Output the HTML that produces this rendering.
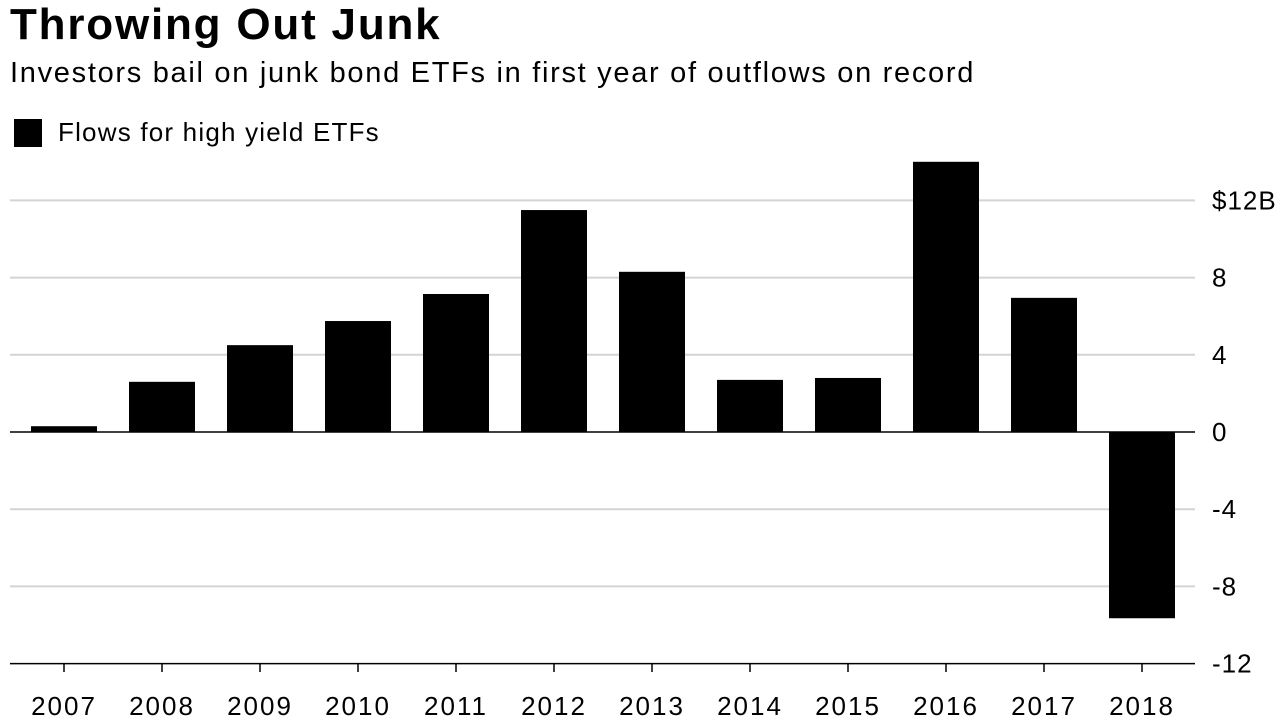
<!DOCTYPE html>
<html><head><meta charset="utf-8"><style>
body{margin:0;background:#fff;font-family:"Liberation Sans",Arial,sans-serif;}
#wrap{position:relative;width:1280px;height:723px;overflow:hidden}
h1{position:absolute;left:10px;top:-1px;margin:0;font-size:44px;font-weight:bold;letter-spacing:1.8px;line-height:52px}
.sub{position:absolute;left:10px;top:56px;font-size:29px;letter-spacing:1.7px;color:#000;line-height:34px}
.leg{position:absolute;left:14px;top:117px;font-size:26px;letter-spacing:1.2px;display:flex;align-items:center}
.sw{width:28px;height:28px;background:#000;margin-right:16px}
</style></head><body>
<div id="wrap">
<h1>Throwing Out Junk</h1>
<div class="sub">Investors bail on junk bond ETFs in first year of outflows on record</div>
<div class="leg"><div class="sw"></div>Flows for high yield ETFs</div>
<svg id="svg" width="1280" height="723" style="position:absolute;left:0;top:0"></svg>
</div>
<script>
const categories=["2007","2008","2009","2010","2011","2012","2013","2014","2015","2016","2017","2018"];
const values=[0.3,2.6,4.5,5.75,7.15,11.5,8.3,2.7,2.8,14.0,6.95,-9.65];
const yTicks=[12,8,4,0,-4,-8,-12];
const yTickLabels=["$12B","8","4","0","-4","-8","-12"];
const ns="http://www.w3.org/2000/svg";
const svg=document.getElementById("svg");
const y0=432,pxPerUnit=19.3;
function y(v){return y0-v*pxPerUnit;}
function xc(i){return 64+i*98;}
function mk(t,a){const e=document.createElementNS(ns,t);for(const k in a)e.setAttribute(k,a[k]);svg.appendChild(e);return e;}
yTicks.forEach((t,i)=>{
  const g=mk("line",{x1:10,x2:1195,y1:y(t),y2:y(t),stroke:t===0||t===-12?"#000":"#d4d4d4","stroke-width":t===0||t===-12?1.5:2});
  
  
  const l=mk("text",{x:1212,y:y(t)+9,"font-size":26,"letter-spacing":1,fill:"#000"});
  l.textContent=yTickLabels[i];
  
  
});
categories.forEach((c,i)=>{
  const v=values[i];
  const r=mk("rect",{x:xc(i)-33,width:66,y:Math.min(y(v),y0),height:Math.abs(y(v)-y0),fill:"#000"});
  
  
  const tk=mk("line",{x1:xc(i),x2:xc(i),y1:663,y2:672,stroke:"#000","stroke-width":1.5});
  
  
  const l=mk("text",{x:xc(i),y:715,"font-size":26,"letter-spacing":2,"text-anchor":"middle",fill:"#000"});
  l.textContent=c;
  
  
});
</script>
</body></html>
